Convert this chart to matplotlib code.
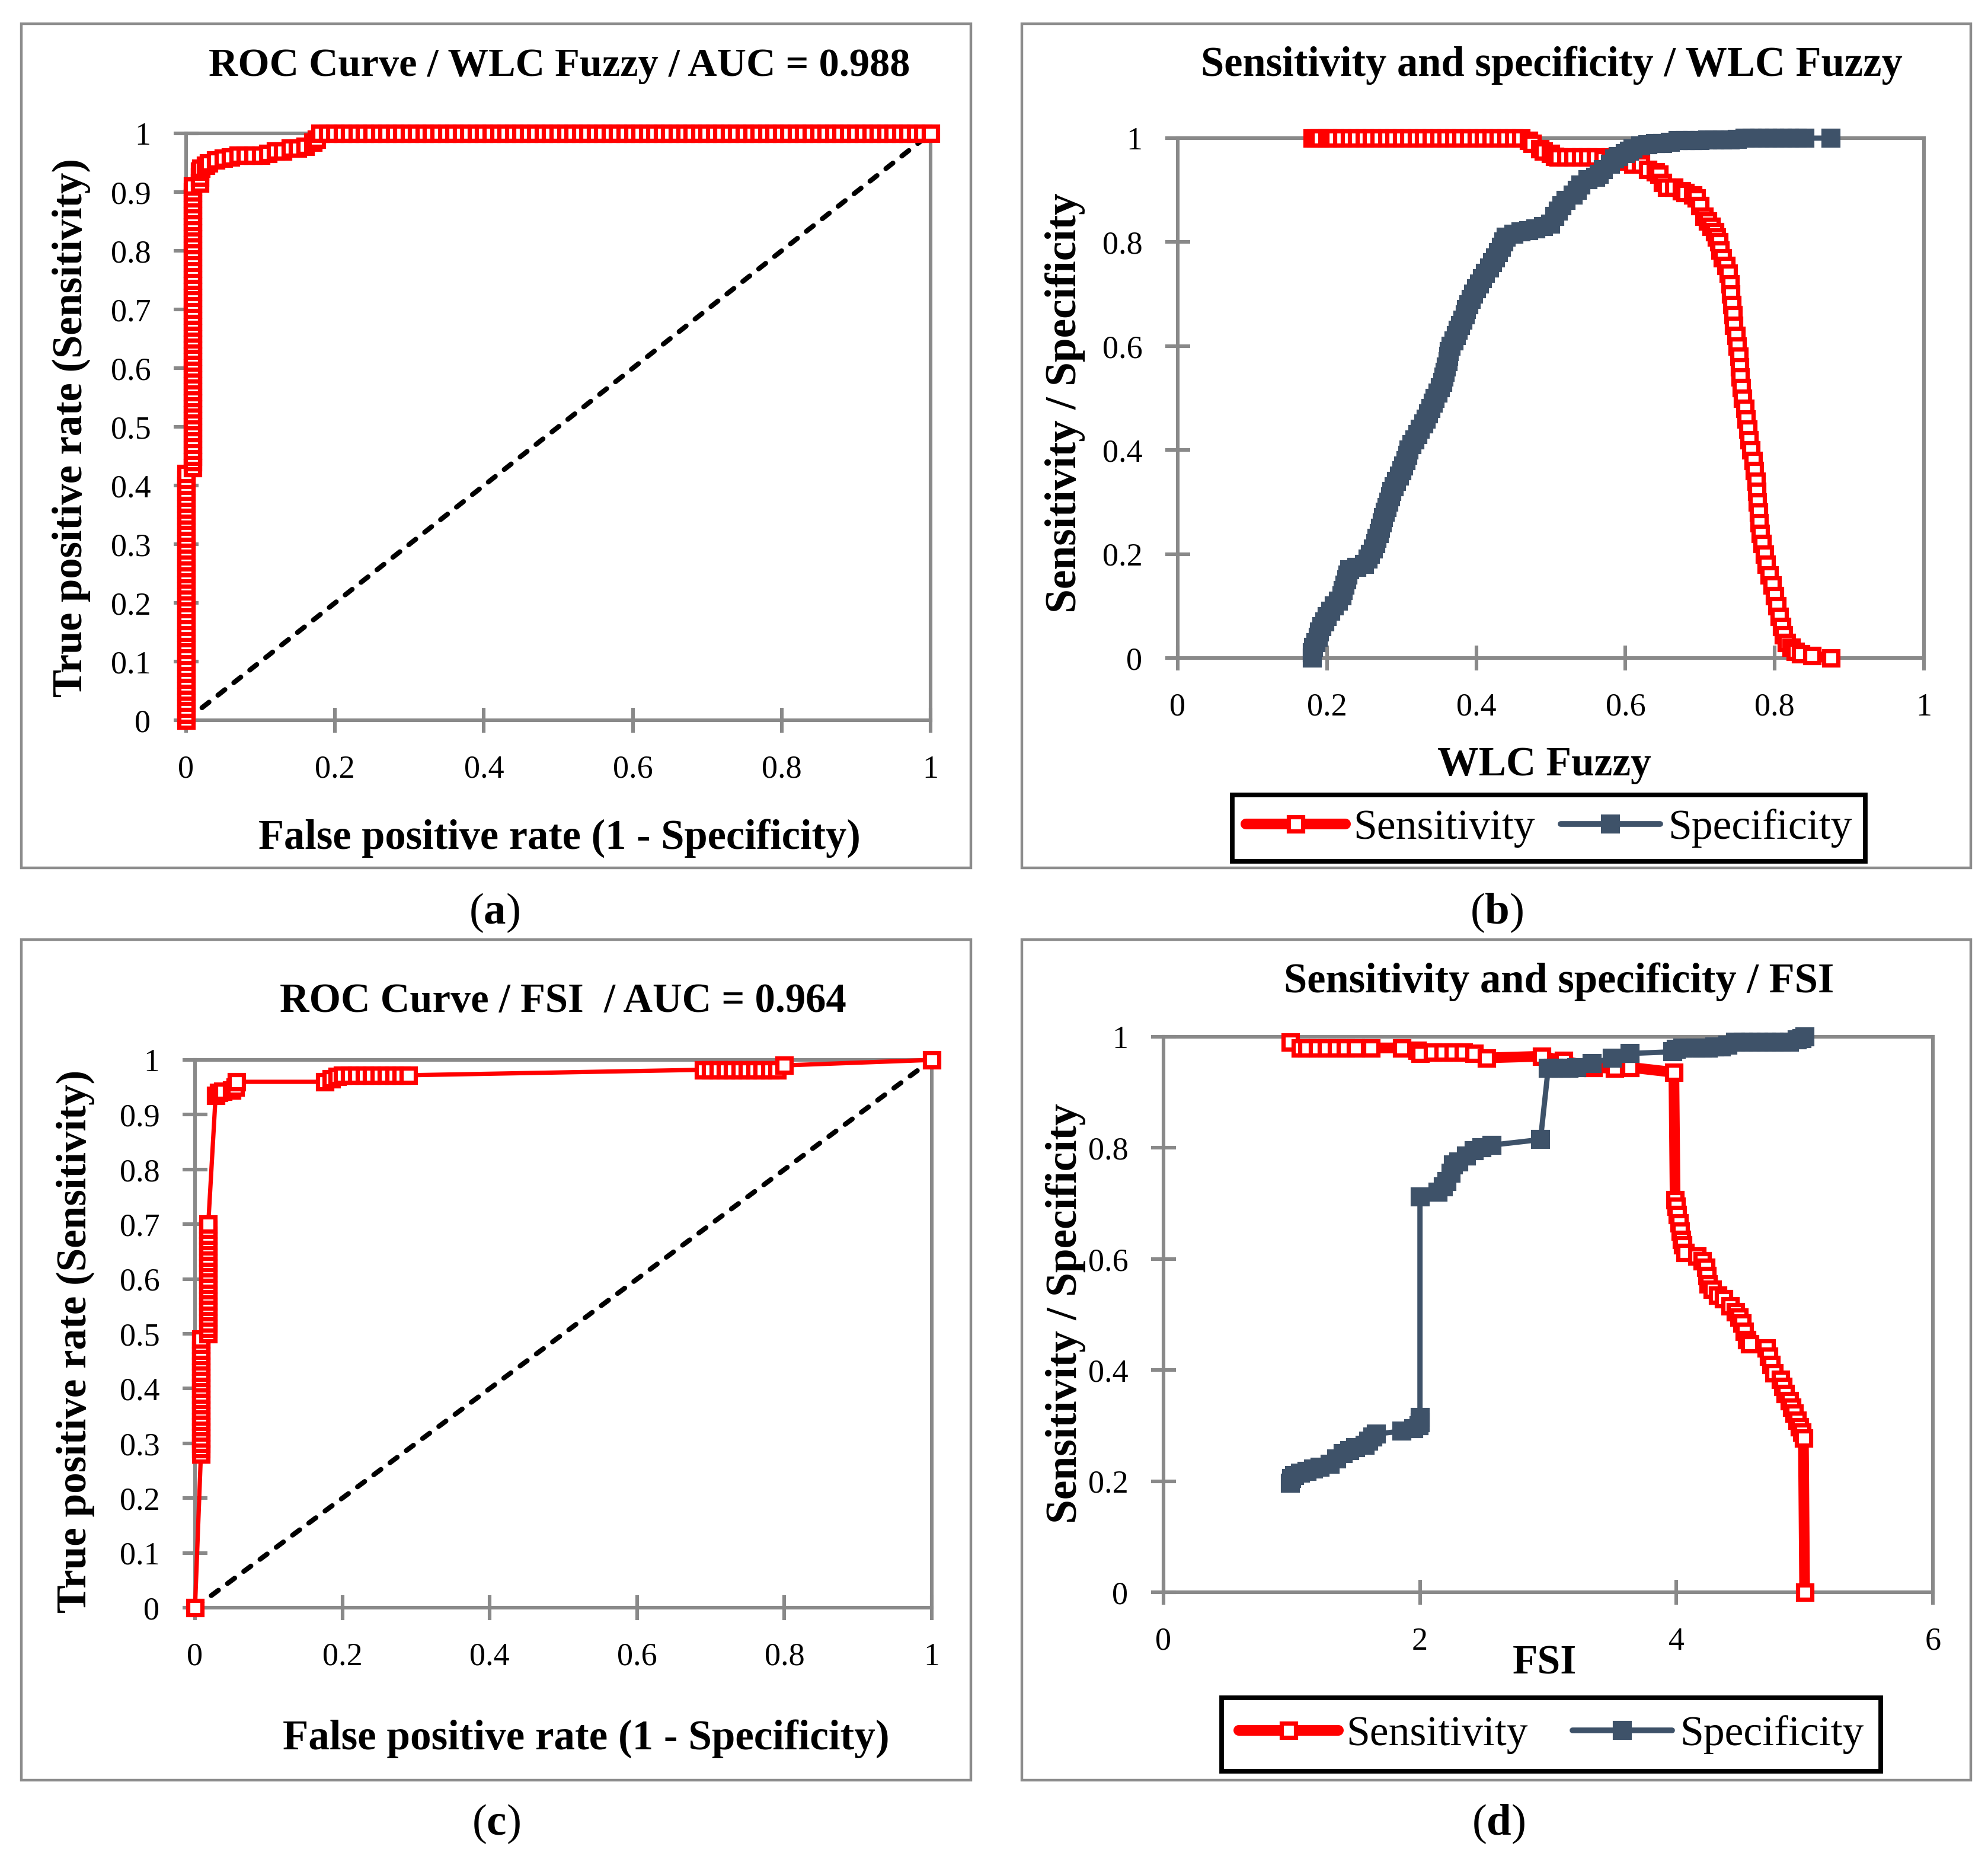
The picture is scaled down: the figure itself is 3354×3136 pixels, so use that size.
import numpy as np
import matplotlib
matplotlib.use("Agg")
import matplotlib.pyplot as plt
from matplotlib.lines import Line2D
from matplotlib.patches import Rectangle

plt.rcParams['font.family'] = ['Liberation Serif', 'DejaVu Serif']
plt.rcParams['mathtext.fontset'] = 'custom'
plt.rcParams['mathtext.rm'] = 'Liberation Serif'
plt.rcParams['mathtext.bf'] = 'Liberation Serif:bold'

# --- (a) ROC curve, WLC Fuzzy ---
roc_wlc_fpr = [
    0, 0, 0, 0, 0, 0, 0, 0, 0, 0,
    0, 0, 0, 0, 0, 0, 0, 0, 0, 0,
    0, 0, 0, 0, 0, 0, 0, 0, 0, 0,
    0, 0, 0, 0, 0, 0, 0, 0, 0, 0,
    0, 0, 0,
    0.009, 0.009, 0.009, 0.009, 0.009, 0.009, 0.009, 0.009, 0.009, 0.009,
    0.009, 0.009, 0.009, 0.009, 0.009, 0.009, 0.009, 0.009, 0.009, 0.009,
    0.009, 0.009, 0.009, 0.009, 0.009, 0.009, 0.009, 0.009, 0.009, 0.009,
    0.009, 0.009, 0.009, 0.009, 0.009, 0.009, 0.009, 0.009, 0.009, 0.009,
    0.009, 0.009, 0.009, 0.009, 0.009, 0.009, 0.009, 0.009, 0.009,
    0.018, 0.018, 0.018, 0.02, 0.026, 0.03, 0.04, 0.05, 0.06, 0.07,
    0.08, 0.09, 0.10, 0.11, 0.12, 0.13, 0.14, 0.15, 0.16, 0.17, 0.175,
    0.18, 0.19, 0.20, 0.21, 0.22, 0.23, 0.24, 0.25, 0.26, 0.27,
    0.28, 0.29, 0.30, 0.31, 0.32, 0.33, 0.34, 0.35, 0.36, 0.37,
    0.38, 0.39, 0.40, 0.41, 0.42, 0.43, 0.44, 0.45, 0.46, 0.47,
    0.48, 0.49, 0.50, 0.51, 0.52, 0.53, 0.54, 0.55, 0.56, 0.57,
    0.58, 0.59, 0.60, 0.61, 0.62, 0.63, 0.64, 0.65, 0.66, 0.67,
    0.68, 0.69, 0.70, 0.71, 0.72, 0.73, 0.74, 0.75, 0.76, 0.77,
    0.78, 0.79, 0.80, 0.81, 0.82, 0.83, 0.84, 0.85, 0.86, 0.87,
    0.88, 0.89, 0.90, 0.91, 0.92, 0.93, 0.94, 0.95, 0.96, 0.97,
    0.98, 0.99, 1.00,
]
roc_wlc_tpr = [
    0.00, 0.01, 0.02, 0.03, 0.04, 0.05, 0.06, 0.07, 0.08, 0.09,
    0.10, 0.11, 0.12, 0.13, 0.14, 0.15, 0.16, 0.17, 0.18, 0.19,
    0.20, 0.21, 0.22, 0.23, 0.24, 0.25, 0.26, 0.27, 0.28, 0.29,
    0.30, 0.31, 0.32, 0.33, 0.34, 0.35, 0.36, 0.37, 0.38, 0.39,
    0.40, 0.41, 0.42,
    0.43, 0.44, 0.45, 0.46, 0.47, 0.48, 0.49, 0.50, 0.51, 0.52,
    0.53, 0.54, 0.55, 0.56, 0.57, 0.58, 0.59, 0.60, 0.61, 0.62,
    0.63, 0.64, 0.65, 0.66, 0.67, 0.68, 0.69, 0.70, 0.71, 0.72,
    0.73, 0.74, 0.75, 0.76, 0.77, 0.78, 0.79, 0.80, 0.81, 0.82,
    0.83, 0.84, 0.85, 0.86, 0.87, 0.88, 0.89, 0.90, 0.91,
    0.915, 0.925, 0.935, 0.94, 0.945, 0.95, 0.955, 0.958, 0.96, 0.963,
    0.963, 0.963, 0.963, 0.966, 0.97, 0.97, 0.975, 0.975, 0.978, 0.985, 0.99,
    1, 1, 1, 1, 1, 1, 1, 1, 1, 1,
    1, 1, 1, 1, 1, 1, 1, 1, 1, 1,
    1, 1, 1, 1, 1, 1, 1, 1, 1, 1,
    1, 1, 1, 1, 1, 1, 1, 1, 1, 1,
    1, 1, 1, 1, 1, 1, 1, 1, 1, 1,
    1, 1, 1, 1, 1, 1, 1, 1, 1, 1,
    1, 1, 1, 1, 1, 1, 1, 1, 1, 1,
    1, 1, 1, 1, 1, 1, 1, 1, 1, 1,
    1, 1, 1,
]

# --- (b) sensitivity / specificity vs WLC Fuzzy ---
wlc_sens_x = [
    0.18, 0.185, 0.19, 0.20, 0.205, 0.21, 0.22, 0.23, 0.24, 0.25,
    0.26, 0.27, 0.28, 0.29, 0.30, 0.31, 0.32, 0.33, 0.34, 0.35,
    0.36, 0.37, 0.38, 0.39, 0.40, 0.41, 0.42, 0.43, 0.44, 0.45, 0.46,
    0.47, 0.475, 0.485, 0.49, 0.50, 0.505, 0.51, 0.52, 0.53, 0.54,
    0.55, 0.56, 0.57, 0.58, 0.59, 0.60, 0.61, 0.62, 0.63, 0.64,
    0.645, 0.65, 0.655, 0.665, 0.675, 0.68, 0.69, 0.695, 0.70, 0.705,
    0.71, 0.715, 0.72, 0.722, 0.725, 0.727, 0.73, 0.735, 0.738, 0.74,
    0.741, 0.743, 0.744, 0.745, 0.748, 0.75, 0.752, 0.753, 0.754, 0.755,
    0.757, 0.76, 0.762, 0.764, 0.766, 0.768, 0.771, 0.773, 0.775, 0.776,
    0.777, 0.778, 0.779, 0.781, 0.783, 0.786, 0.789, 0.793, 0.797, 0.80,
    0.803, 0.806, 0.809, 0.812, 0.816, 0.822, 0.828, 0.835, 0.85, 0.875,
]
wlc_sens_y = [
    1, 1, 1, 1, 1, 1, 1, 1, 1, 1,
    1, 1, 1, 1, 1, 1, 1, 1, 1, 1,
    1, 1, 1, 1, 1, 1, 1, 1, 1, 1, 1,
    0.995, 0.99, 0.98, 0.975, 0.97, 0.965, 0.963, 0.963, 0.963, 0.963,
    0.963, 0.963, 0.96, 0.963, 0.96, 0.955, 0.95, 0.95, 0.94, 0.935,
    0.93, 0.915, 0.905, 0.905, 0.898, 0.895, 0.89, 0.885, 0.87, 0.85,
    0.84, 0.83, 0.82, 0.81, 0.80, 0.785, 0.77, 0.755, 0.74, 0.72,
    0.70, 0.68, 0.66, 0.64, 0.62, 0.60, 0.58, 0.56, 0.54, 0.52,
    0.50, 0.48, 0.46, 0.44, 0.42, 0.40, 0.38, 0.36, 0.34, 0.32,
    0.30, 0.28, 0.26, 0.24, 0.22, 0.20, 0.18, 0.16, 0.14, 0.12,
    0.10, 0.08, 0.06, 0.045, 0.03, 0.02, 0.012, 0.008, 0.004, 0.0,
]
wlc_spec_x = [
    0.18, 0.18, 0.182, 0.185, 0.188, 0.19, 0.193, 0.197, 0.20, 0.205,
    0.21, 0.215, 0.22, 0.222, 0.224, 0.226, 0.228, 0.23, 0.24, 0.25,
    0.255, 0.258, 0.262, 0.265, 0.267, 0.27, 0.272, 0.274, 0.276, 0.278,
    0.28, 0.283, 0.285, 0.287, 0.29, 0.293, 0.297, 0.30, 0.303, 0.306,
    0.308, 0.31, 0.314, 0.318, 0.322, 0.325, 0.33, 0.333, 0.336, 0.339,
    0.342, 0.345, 0.349, 0.352, 0.355, 0.357, 0.358, 0.36, 0.362, 0.363,
    0.364, 0.366, 0.37, 0.373, 0.376, 0.379, 0.382, 0.385, 0.387, 0.39,
    0.393, 0.396, 0.40, 0.404, 0.408, 0.412, 0.418, 0.422, 0.426, 0.43,
    0.434, 0.437, 0.44, 0.45, 0.46, 0.47, 0.48, 0.49, 0.50, 0.505,
    0.51, 0.515, 0.52, 0.53, 0.535, 0.54, 0.55, 0.56, 0.565, 0.57,
    0.58, 0.585, 0.59, 0.60, 0.605, 0.61, 0.62, 0.63, 0.64, 0.65,
    0.66, 0.67, 0.68, 0.69, 0.70, 0.71, 0.72, 0.73, 0.74, 0.75,
    0.76, 0.77, 0.78, 0.79, 0.80, 0.81, 0.82, 0.83, 0.84, 0.875,
]
wlc_spec_y = [
    0.0, 0.01, 0.02, 0.03, 0.04, 0.05, 0.06, 0.07, 0.08, 0.09,
    0.10, 0.11, 0.12, 0.13, 0.14, 0.15, 0.16, 0.17, 0.175, 0.18,
    0.19, 0.20, 0.21, 0.22, 0.23, 0.24, 0.25, 0.26, 0.27, 0.28,
    0.29, 0.30, 0.31, 0.32, 0.33, 0.34, 0.35, 0.36, 0.37, 0.38,
    0.39, 0.40, 0.41, 0.42, 0.43, 0.44, 0.45, 0.46, 0.47, 0.48,
    0.49, 0.50, 0.51, 0.52, 0.53, 0.54, 0.55, 0.56, 0.57, 0.58,
    0.59, 0.60, 0.61, 0.62, 0.63, 0.64, 0.65, 0.66, 0.67, 0.68,
    0.69, 0.70, 0.71, 0.72, 0.73, 0.74, 0.75, 0.76, 0.77, 0.78,
    0.79, 0.80, 0.81, 0.815, 0.82, 0.822, 0.825, 0.83, 0.835, 0.85,
    0.86, 0.87, 0.88, 0.89, 0.90, 0.91, 0.92, 0.925, 0.93, 0.94,
    0.95, 0.96, 0.965, 0.97, 0.975, 0.98, 0.985, 0.987, 0.99, 0.99,
    0.992, 0.995, 0.995, 0.995, 0.995, 0.997, 0.997, 0.997, 0.997, 0.998,
    1, 1, 1, 1, 1, 1, 1, 1, 1, 1,
]

# --- (c) ROC curve, FSI ---
roc_fsi_fpr = [
    0.0,
    0.008, 0.008, 0.008, 0.008, 0.008, 0.008, 0.008, 0.008, 0.008, 0.008, 0.008,
    0.008, 0.008, 0.008, 0.008, 0.008, 0.008, 0.008, 0.008, 0.008, 0.008, 0.008,
    0.018, 0.018, 0.018, 0.018, 0.018, 0.018, 0.018, 0.018, 0.018, 0.018, 0.018,
    0.018, 0.018, 0.018, 0.018, 0.018, 0.018, 0.018, 0.018, 0.018, 0.018,
    0.028, 0.032, 0.038, 0.05, 0.055, 0.056,
    0.176, 0.185, 0.193, 0.20, 0.21, 0.22, 0.23, 0.24, 0.25, 0.26, 0.27, 0.28, 0.29,
    0.69, 0.70, 0.71, 0.72, 0.73, 0.74, 0.75, 0.76, 0.77, 0.78, 0.79,
    0.80, 1.0,
]
roc_fsi_tpr = [
    0.0,
    0.28, 0.29, 0.30, 0.31, 0.32, 0.33, 0.34, 0.35, 0.36, 0.37, 0.38,
    0.39, 0.40, 0.41, 0.42, 0.43, 0.44, 0.45, 0.46, 0.47, 0.48, 0.49,
    0.50, 0.51, 0.52, 0.53, 0.54, 0.55, 0.56, 0.57, 0.58, 0.59, 0.60,
    0.61, 0.62, 0.63, 0.64, 0.65, 0.66, 0.67, 0.68, 0.69, 0.70,
    0.935, 0.94, 0.943, 0.945, 0.95, 0.96,
    0.96, 0.965, 0.97, 0.972, 0.972, 0.972, 0.972, 0.972, 0.972, 0.972, 0.972, 0.972, 0.972,
    0.982, 0.982, 0.982, 0.982, 0.982, 0.982, 0.982, 0.982, 0.982, 0.982, 0.982,
    0.99, 1.0,
]

# --- (d) sensitivity / specificity vs FSI ---
fsi_sens_x = [
    0.99, 1.07, 1.12, 1.20, 1.27, 1.35, 1.42, 1.50, 1.62, 1.86,
    1.98, 2.00, 2.10, 2.18, 2.26, 2.34, 2.42, 2.52, 2.95, 3.12,
    3.35, 3.52, 3.64, 3.98, 3.99, 4.00, 4.01, 4.02, 4.03, 4.04,
    4.05, 4.07, 4.16, 4.20, 4.23, 4.24, 4.25, 4.28, 4.32, 4.37,
    4.42, 4.46, 4.49, 4.51, 4.53, 4.55, 4.57, 4.70, 4.72, 4.74,
    4.76, 4.81, 4.83, 4.85, 4.88, 4.90, 4.92, 4.94, 4.96, 4.98,
    4.99, 5.00,
]
fsi_sens_y = [
    0.99, 0.98, 0.98, 0.98, 0.98, 0.98, 0.98, 0.98, 0.98, 0.98,
    0.975, 0.97, 0.972, 0.972, 0.972, 0.972, 0.97, 0.962, 0.965, 0.957,
    0.945, 0.943, 0.945, 0.936, 0.706, 0.695, 0.68, 0.665, 0.65, 0.635,
    0.625, 0.612, 0.605, 0.597, 0.585, 0.57, 0.555, 0.545, 0.535, 0.528,
    0.515, 0.505, 0.495, 0.485, 0.47, 0.455, 0.447, 0.44, 0.425, 0.41,
    0.395, 0.383, 0.37, 0.357, 0.345, 0.333, 0.322, 0.31, 0.298, 0.288,
    0.278, 0.0,
]
fsi_spec_x = [
    0.99, 1.00, 1.02, 1.07, 1.12, 1.17, 1.22, 1.30, 1.35, 1.40,
    1.45, 1.50, 1.57, 1.60, 1.63, 1.66, 1.86, 1.95, 1.99, 2.00,
    2.00, 2.00, 2.14, 2.18, 2.21, 2.24, 2.26, 2.30, 2.36, 2.42,
    2.48, 2.56, 2.94, 3.00, 3.04, 3.10, 3.16, 3.22, 3.34, 3.50,
    3.64, 3.97, 4.00, 4.05, 4.10, 4.15, 4.20, 4.25, 4.30, 4.35,
    4.40, 4.46, 4.52, 4.58, 4.64, 4.70, 4.76, 4.82, 4.88, 4.94,
    4.98, 5.00,
]
fsi_spec_y = [
    0.196, 0.205, 0.21, 0.215, 0.218, 0.222, 0.225, 0.23, 0.24, 0.25,
    0.255, 0.26, 0.265, 0.272, 0.28, 0.285, 0.29, 0.295, 0.30, 0.305,
    0.315, 0.712, 0.72, 0.73, 0.74, 0.755, 0.77, 0.775, 0.785, 0.795,
    0.80, 0.805, 0.815, 0.943, 0.943, 0.943, 0.943, 0.945, 0.952, 0.962,
    0.97, 0.973, 0.978, 0.98, 0.98, 0.98, 0.98, 0.98, 0.982, 0.982,
    0.985, 0.99, 0.99, 0.99, 0.99, 0.99, 0.99, 0.99, 0.99, 0.995,
    0.997, 1.0,
]

# reference diagonal of the ROC plots
diag_x = [0, 1]
diag_y = [0, 1]

roc_xticks = [0, 0.2, 0.4, 0.6, 0.8, 1]
roc_yticks = [0, 0.1, 0.2, 0.3, 0.4, 0.5, 0.6, 0.7, 0.8, 0.9, 1]
ss_wlc_xticks = [0, 0.2, 0.4, 0.6, 0.8, 1]
ss_fsi_xticks = [0, 2, 4, 6]
ss_yticks = [0, 0.2, 0.4, 0.6, 0.8, 1]

RED = '#FF0000'
SLATE = '#3E5269'
GRAY = '#898989'

W, H = 3355, 3136
DPI = 200

fig = plt.figure(figsize=(W / DPI, H / DPI), dpi=DPI)
fig.patch.set_facecolor('white')


def fx(px):
    return px / W


def fy(py):
    return 1 - py / H


def axes_px(x0, y0, x1, y1):
    return fig.add_axes([fx(x0), fy(y1), (x1 - x0) / W, (y1 - y0) / H])


def panel_box(x0, y0, x1, y1):
    fig.add_artist(Rectangle((fx(x0), fy(y1)), (x1 - x0) / W, (y1 - y0) / H,
                             transform=fig.transFigure, fill=False,
                             ec='#8c8c8c', lw=1.6))


def style(ax, xticks, yticks, xlim, ylim, xpad=13.5, ypad=14):
    ax.set_xlim(*xlim)
    ax.set_ylim(*ylim)
    for sp in ax.spines.values():
        sp.set_color(GRAY)
        sp.set_linewidth(2.2)
    ax.set_xticks(xticks)
    ax.set_xticklabels(['%g' % v for v in xticks])
    ax.set_yticks(yticks)
    ax.set_yticklabels(['%g' % v for v in yticks])
    ax.tick_params(direction='inout', length=15, width=2.2, color=GRAY,
                   labelsize=19.5, labelcolor='black')
    ax.tick_params(axis='x', pad=xpad)
    ax.tick_params(axis='y', pad=ypad)
    ax.set_facecolor('none')


def ftext(x, y, s, size=25, bold=True, rot=0):
    fig.text(fx(x), fy(y), s, fontsize=size,
             fontweight='bold' if bold else 'normal',
             ha='center', va='baseline', rotation=rot,
             rotation_mode='anchor')


sens_kw = dict(color=RED, marker='s', ms=8.8, mfc='white', mec=RED, mew=2.6,
               clip_on=False, zorder=3)
spec_kw = dict(color=SLATE, marker='s', ms=10, mfc=SLATE, mec=SLATE, mew=1.5,
               lw=3.2, clip_on=False, zorder=4)
diag_kw = dict(color='black', lw=3, ls=(0, (1.8, 2.3)), dash_capstyle='round',
               clip_on=False, zorder=2.6)

# panel frames
panel_box(36, 40, 1638, 1464)
panel_box(1724, 40, 3325, 1464)
panel_box(36, 1585, 1638, 3003)
panel_box(1724, 1585, 3325, 3003)

# (a)
ax_a = axes_px(314, 225, 1570, 1215)
ax_a.plot(diag_x, diag_y, **diag_kw)
ax_a.plot(roc_wlc_fpr, roc_wlc_tpr, lw=2.6, **sens_kw)
style(ax_a, roc_xticks, roc_yticks, (0, 1), (0, 1))
ftext(944, 128, 'ROC Curve / WLC Fuzzy / AUC = 0.988', size=24.6)
ftext(944, 1432, 'False positive rate (1 - Specificity)', size=25.4)
ftext(138, 722, 'True positive rate (Sensitivity)', size=25.4, rot=90)
ftext(834, 1558, r'($\mathbf{a}$)', size=27, bold=False)

# (b)
ax_b = axes_px(1987, 233, 3246, 1110)
ax_b.plot(wlc_sens_x, wlc_sens_y, lw=6.5, **sens_kw)
ax_b.plot(wlc_spec_x, wlc_spec_y, **spec_kw)
style(ax_b, ss_wlc_xticks, ss_yticks, (0, 1), (0, 1))
ftext(2618, 128, 'Sensitivity and specificity / WLC Fuzzy', size=25.4)
ftext(2605, 1308, 'WLC Fuzzy')
ftext(1815, 680, 'Sensitivity / Specificity', size=26.4, rot=90)
ftext(2525, 1558, r'($\mathbf{b}$)', size=27, bold=False)

# (c)
ax_c = axes_px(329, 1788, 1572, 2712)
ax_c.plot(diag_x, diag_y, **diag_kw)
ax_c.plot(roc_fsi_fpr, roc_fsi_tpr, lw=2.6, **sens_kw)
style(ax_c, roc_xticks, roc_yticks, (0, 1), (0, 1))
ftext(950, 1707, 'ROC Curve / FSI  / AUC = 0.964', size=24.7)
ftext(989, 2951, 'False positive rate (1 - Specificity)', size=25.6)
ftext(145, 2263, 'True positive rate (Sensitivity)', size=25.6, rot=90)
ftext(837, 3095, r'($\mathbf{c}$)', size=27, bold=False)

# (d)
ax_d = axes_px(1963, 1749, 3261, 2686)
ax_d.plot(fsi_sens_x, fsi_sens_y, lw=6.5, **sens_kw)
ax_d.plot(fsi_spec_x, fsi_spec_y, **spec_kw)
style(ax_d, ss_fsi_xticks, ss_yticks, (0, 6), (0, 1))
ftext(2630, 1674, 'Sensitivity and specificity / FSI', size=25.4)
ftext(2606, 2823, 'FSI')
ftext(1816, 2216, 'Sensitivity / Specificity', size=26.4, rot=90)
ftext(2528, 3095, r'($\mathbf{d}$)', size=27, bold=False)

# legends for (b) and (d)
sens_handle = Line2D([], [], color=RED, lw=6.5, solid_capstyle='round', marker='s',
                     ms=8.8, mfc='white', mec=RED, mew=2.6)
spec_handle = Line2D([], [], color=SLATE, lw=3.5, solid_capstyle='round', marker='s',
                     ms=10, mfc=SLATE, mec=SLATE, mew=1.5)
for ax, (cx, cy), colsp, bpad in [(ax_b, (2613, 1397), 0.6, 0.32),
                                  (ax_d, (2617, 2926), 1.05, 0.4)]:
    leg = ax.legend([sens_handle, spec_handle], ['Sensitivity', 'Specificity'],
                    ncol=2, loc='center',
                    bbox_to_anchor=(fx(cx), fy(cy)),
                    bbox_transform=fig.transFigure, fontsize=25.8, frameon=True,
                    fancybox=False, edgecolor='black', framealpha=1,
                    handlelength=2.35, handletextpad=0.18, columnspacing=colsp,
                    borderpad=bpad, borderaxespad=0)
    leg.get_frame().set_linewidth(2.8)

fig.savefig('out.png', dpi=DPI, facecolor='white')
